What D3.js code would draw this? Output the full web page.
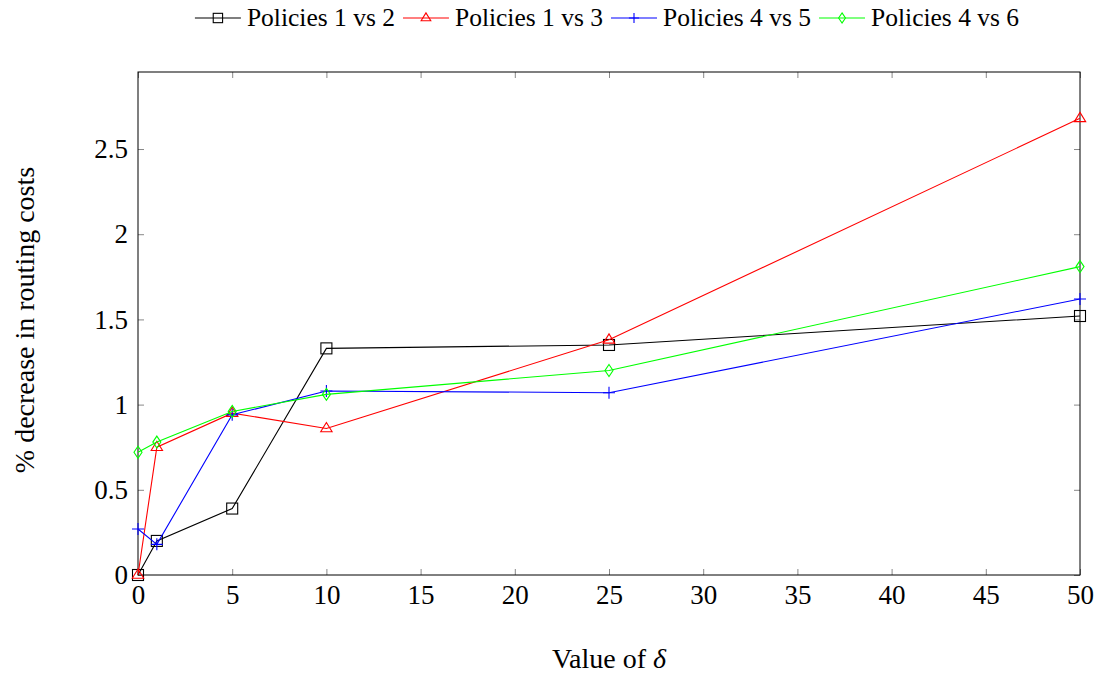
<!DOCTYPE html>
<html>
<head>
<meta charset="utf-8">
<script src="https://cdn.jsdelivr.net/npm/d3@7"></script>
<style>
  html, body { margin: 0; padding: 0; background: #fff; }
  svg text { font-family: "Liberation Serif", "DejaVu Serif", serif; fill: #000; }
</style>
</head>
<body>
<svg id="chart" width="1095" height="673"></svg>
<script>
// δ values on the x axis
const deltas = [0, 1, 5, 10, 25, 50];

// % decrease in routing costs for each policy comparison
const p1vs2 = [0, 0.20, 0.39, 1.33, 1.35, 1.52];
const p1vs3 = [0, 0.75, 0.95, 0.86, 1.38, 2.68];
const p4vs5 = [0.27, 0.18, 0.94, 1.08, 1.07, 1.62];
const p4vs6 = [0.72, 0.78, 0.96, 1.06, 1.20, 1.81];

const seriesNames = ["Policies 1 vs 2", "Policies 1 vs 3", "Policies 4 vs 5", "Policies 4 vs 6"];
const seriesColors = ["#000000", "#ff0000", "#0000ff", "#00ff00"];
const seriesMarks = ["square", "triangle", "plus", "diamond"];

const xTicks = [0, 5, 10, 15, 20, 25, 30, 35, 40, 45, 50];
const yTicks = [0, 0.5, 1, 1.5, 2, 2.5];

const series = seriesNames.map((name, i) => ({
  name, color: seriesColors[i], mark: seriesMarks[i],
  values: [p1vs2, p1vs3, p4vs5, p4vs6][i]
}));

const svg = d3.select("#chart");
const plotLeft = 138, plotRight = 1080, plotTop = 72, plotBottom = 575;

const x = d3.scaleLinear().domain([0, 50]).range([plotLeft, plotRight]);
const y = d3.scaleLinear().domain([0, 2.952]).range([plotBottom, plotTop]);

const tickLen = 6;
const tickColor = "#888";
const tickFont = 27;
const titleFont = 28;
const legendFont = 25.5;
const fmt = d => String(d);

// inward ticks on all four sides
const axes = svg.append("g");
axes.append("g").attr("transform", `translate(0,${plotBottom})`)
  .call(d3.axisBottom(x).tickValues(xTicks).tickSizeInner(-tickLen).tickSizeOuter(0).tickFormat(fmt).tickPadding(10));
axes.append("g").attr("transform", `translate(0,${plotTop})`)
  .call(d3.axisTop(x).tickValues(xTicks).tickSizeInner(-tickLen).tickSizeOuter(0).tickFormat(""));
axes.append("g").attr("transform", `translate(${plotLeft},0)`)
  .call(d3.axisLeft(y).tickValues(yTicks).tickSizeInner(-tickLen).tickSizeOuter(0).tickFormat(fmt).tickPadding(10));
axes.append("g").attr("transform", `translate(${plotRight},0)`)
  .call(d3.axisRight(y).tickValues(yTicks).tickSizeInner(-tickLen).tickSizeOuter(0).tickFormat(""));
axes.selectAll(".domain").remove();
axes.selectAll(".tick line").attr("stroke", tickColor).attr("stroke-width", 1);
axes.selectAll(".tick text").style("font-size", tickFont + "px").style("font-family", '"Liberation Serif", serif');

// frame
svg.append("rect").attr("x", plotLeft).attr("y", plotTop)
  .attr("width", plotRight - plotLeft).attr("height", plotBottom - plotTop)
  .attr("fill", "none").attr("stroke", "#000").attr("stroke-width", 1);

function drawMarker(g, kind, cx, cy, color, scale = 1) {
  const s = 5.5 * scale;
  if (kind === "square") {
    g.append("rect").attr("x", cx - s).attr("y", cy - s).attr("width", 2 * s).attr("height", 2 * s)
      .attr("fill", "none").attr("stroke", color).attr("stroke-width", 1.1);
  } else if (kind === "triangle") {
    const r = 6 * scale;
    g.append("path").attr("d", `M${cx},${cy - r}L${cx + r * 0.95},${cy + r * 0.55}L${cx - r * 0.95},${cy + r * 0.55}Z`)
      .attr("fill", "none").attr("stroke", color).attr("stroke-width", 1.1);
  } else if (kind === "diamond") {
    const r = 6 * scale;
    g.append("path").attr("d", `M${cx},${cy - r}L${cx + r * 0.67},${cy}L${cx},${cy + r}L${cx - r * 0.67},${cy}Z`)
      .attr("fill", "none").attr("stroke", color).attr("stroke-width", 1.1);
  } else if (kind === "plus") {
    const r = 6 * scale;
    g.append("path").attr("d", `M${cx - r},${cy}L${cx + r},${cy}M${cx},${cy - r}L${cx},${cy + r}`)
      .attr("fill", "none").attr("stroke", color).attr("stroke-width", 1.1);
  }
}

const line = d3.line().x(d => x(d[0])).y(d => y(d[1]));
const plot = svg.append("g");
series.forEach(s => {
  const pts = deltas.map((d, i) => [d, s.values[i]]);
  plot.append("path").datum(pts).attr("d", line)
    .attr("fill", "none").attr("stroke", s.color).attr("stroke-width", 1.1);
  const mg = plot.append("g");
  pts.forEach(p => drawMarker(mg, s.mark, x(p[0]), y(p[1]), s.color));
});

// legend across the top, centred over the plot
const legend = svg.append("g");
const ly = 18;
const lineLen = 46, lineGap = 6, entryGap = 8;
let lx = 0;
series.forEach((s, i) => {
  const g = legend.append("g");
  g.append("line").attr("x1", lx).attr("x2", lx + lineLen).attr("y1", ly).attr("y2", ly)
    .attr("stroke", s.color).attr("stroke-width", 1.1);
  drawMarker(g, s.mark, lx + lineLen / 2, ly, s.color, 0.85);
  const t = g.append("text").attr("x", lx + lineLen + lineGap).attr("y", ly + 8)
    .style("font-size", legendFont + "px").text(s.name);
  lx += lineLen + lineGap + t.node().getComputedTextLength() + (i < series.length - 1 ? entryGap : 0);
});
legend.attr("transform", `translate(${607 - lx / 2},0)`);

// axis titles
svg.append("text").attr("x", (plotLeft + plotRight) / 2).attr("y", 668).attr("text-anchor", "middle")
  .style("font-size", titleFont + "px")
  .html('Value of <tspan font-style="italic">δ</tspan>');
svg.append("text").attr("transform", `translate(34,320) rotate(-90)`)
  .attr("text-anchor", "middle").style("font-size", titleFont + "px")
  .text("% decrease in routing costs");
</script>
</body>
</html>
